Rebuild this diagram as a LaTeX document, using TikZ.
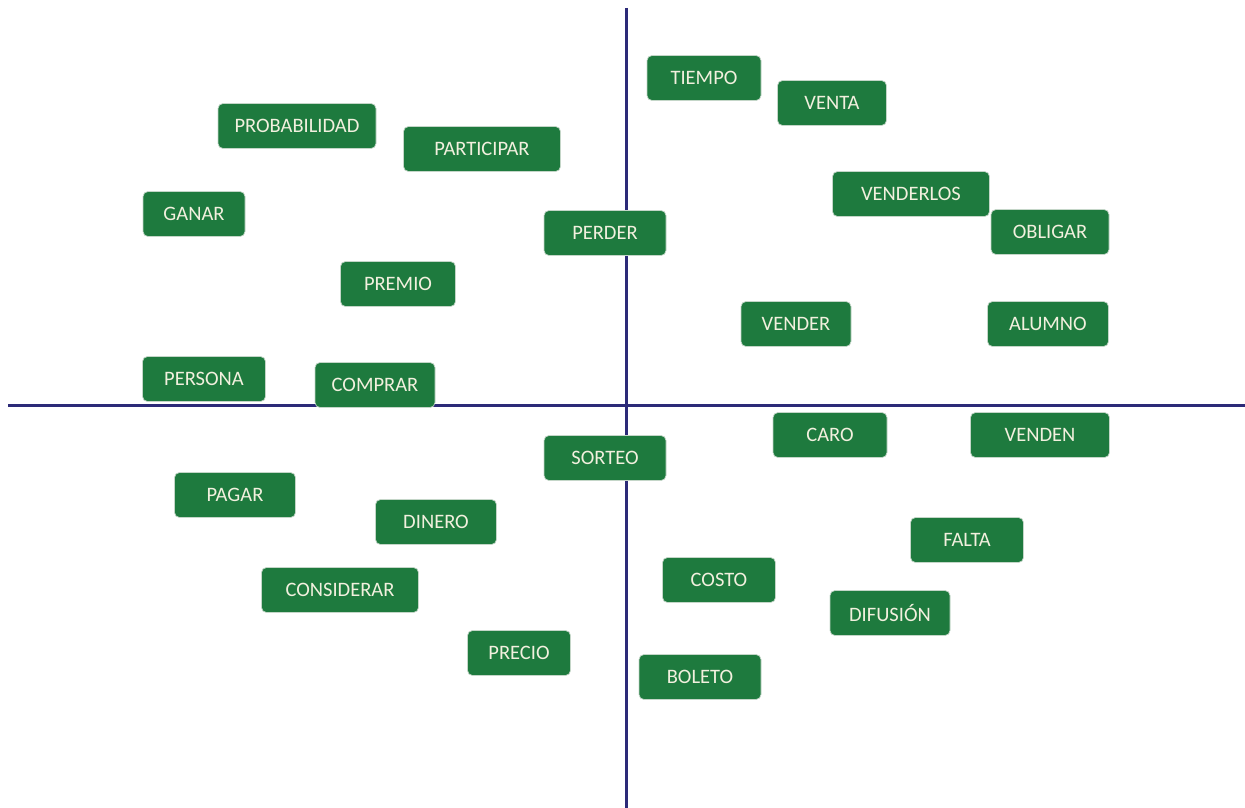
\documentclass[tikz,border=0pt]{standalone}
\usepackage{fontspec}
\setmainfont{Carlito}
\definecolor{boxgreen}{HTML}{1E7A3E}
\definecolor{boxtext}{HTML}{F2F0DE}
\definecolor{axisblue}{HTML}{2C2A78}
\definecolor{boxedge}{HTML}{C4D6C8}
\begin{document}
\begin{tikzpicture}[x=1pt,y=-1pt,
  wordbox/.style={draw=boxedge,line width=0.7pt,fill=boxgreen,text=boxtext,rounded corners=5pt,
    minimum height=45pt,inner sep=0pt,font=\fontsize{20.5}{23}\selectfont},
  axis/.style={draw=axisblue,line width=3pt}]
\useasboundingbox (0,0) rectangle (1245,808);
\coordinate (vt) at (626,8);
\coordinate (vb) at (626,808);
\coordinate (hl) at (8,405);
\coordinate (hr) at (1245,405);
\draw[axis] (vt) -- (vb);
\draw[axis] (hl) -- (hr);
\node[wordbox,minimum width=114pt] (tiempo) at (704,78) {TIEMPO};
\node[wordbox,minimum width=109pt] (venta) at (832,103) {VENTA};
\node[wordbox,minimum width=158pt] (probabilidad) at (297,126) {PROBABILIDAD};
\node[wordbox,minimum width=157pt] (participar) at (482,149) {PARTICIPAR};
\node[wordbox,minimum width=157pt] (venderlos) at (911,194) {VENDERLOS};
\node[wordbox,minimum width=102pt] (ganar) at (194,214) {GANAR};
\node[wordbox,minimum width=122pt] (perder) at (605,233) {PERDER};
\node[wordbox,minimum width=118pt] (obligar) at (1050,232) {OBLIGAR};
\node[wordbox,minimum width=115pt] (premio) at (398,284) {PREMIO};
\node[wordbox,minimum width=110pt] (vender) at (796,324) {VENDER};
\node[wordbox,minimum width=121pt] (alumno) at (1048,324) {ALUMNO};
\node[wordbox,minimum width=123pt] (persona) at (204,379) {PERSONA};
\node[wordbox,minimum width=120pt] (comprar) at (375,385) {COMPRAR};
\node[wordbox,minimum width=114pt] (caro) at (830,435) {CARO};
\node[wordbox,minimum width=139pt] (venden) at (1040,435) {VENDEN};
\node[wordbox,minimum width=122pt] (sorteo) at (605,458) {SORTEO};
\node[wordbox,minimum width=121pt] (pagar) at (235,495) {PAGAR};
\node[wordbox,minimum width=121pt] (dinero) at (436,522) {DINERO};
\node[wordbox,minimum width=113pt] (falta) at (967,540) {FALTA};
\node[wordbox,minimum width=113pt] (costo) at (719,580) {COSTO};
\node[wordbox,minimum width=157pt] (considerar) at (340,590) {CONSIDERAR};
\node[wordbox,minimum width=120pt] (difusion) at (890,613) {DIFUSIÓN};
\node[wordbox,minimum width=103pt] (precio) at (519,653) {PRECIO};
\node[wordbox,minimum width=122pt] (boleto) at (700,677) {BOLETO};
\end{tikzpicture}
\end{document}
